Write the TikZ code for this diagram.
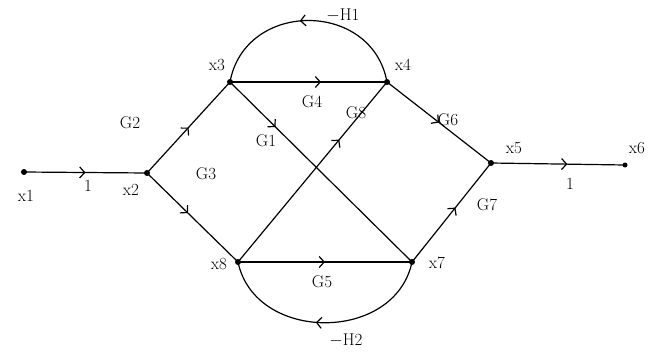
\documentclass[tikz,border=0pt]{standalone}
\usetikzlibrary{arrows.meta,decorations.markings}
\begin{document}
\begin{tikzpicture}[x=1pt,y=-1pt,
  dot/.style={circle,fill=black,inner sep=0pt,minimum size=6pt},
  lbl/.style={font=\fontsize{17}{19}\selectfont,inner sep=1pt},
  edge/.style={line width=1.2pt,postaction={decorate},
    decoration={markings,mark=at position #1 with {\arrow{Straight Barb[length=5pt,width=11pt,line width=1.2pt]}}}},
  edge/.default=0.5]
\useasboundingbox (0,0) rectangle (650,351);
% nodes
\node[dot] (x1) at (24,172) {};
\node[dot] (x2) at (147,173) {};
\node[dot] (x3) at (230,82) {};
\node[dot] (x4) at (387,82) {};
\node[dot] (x5) at (491,163) {};
\node[dot,minimum size=5pt] (x6) at (625,165) {};
\node[dot] (x7) at (412,262) {};
\node[dot] (x8) at (238,262) {};
% node labels
\node[lbl] (lx1) at (26,196) {x1};
\node[lbl] (lx2) at (131,190) {x2};
\node[lbl] (lx3) at (217,65) {x3};
\node[lbl] (lx4) at (403,65) {x4};
\node[lbl] (lx5) at (514,148) {x5};
\node[lbl] (lx6) at (637,148) {x6};
\node[lbl] (lx7) at (437,263) {x7};
\node[lbl] (lx8) at (219,264) {x8};
% edges
\draw[edge=0.5] (x1.center) -- (x2.center);
\draw[edge=0.5] (x2.center) -- (x3.center);
\draw[edge=0.45] (x2.center) -- (x8.center);
\draw[edge=0.58] (x3.center) -- (x4.center);
\draw[edge=0.25] (x3.center) -- (x7.center);
\draw[edge=0.68] (x8.center) -- (x4.center);
\draw[edge=0.5] (x8.center) -- (x7.center);
\draw[edge=0.5] (x4.center) -- (x5.center);
\draw[edge=0.55] (x7.center) -- (x5.center);
\draw[edge=0.57] (x5.center) -- (x6.center);
\draw[edge=0.54] (x4.center) .. controls (372,0) and (245,0) .. (x3.center);
\draw[edge=0.54] (x7.center) .. controls (395,343) and (255,343) .. (x8.center);
% gain labels
\node[lbl] (g1a) at (88,186) {1};
\node[lbl] (g2) at (130,123) {G2};
\node[lbl] (g3) at (206,174) {G3};
\node[lbl] (g4) at (312,102) {G4};
\node[lbl] (g1) at (266,141) {G1};
\node[lbl] (g8) at (356,113) {G8};
\node[lbl] (g5) at (322,282) {G5};
\node[lbl] (g6) at (448,120) {G6};
\node[lbl] (g7) at (487,205) {G7};
\node[lbl] (g1b) at (570,184) {1};
\node[lbl] (h1) at (343,15) {$-$H1};
\node[lbl] (h2) at (346,340) {$-$H2};
\end{tikzpicture}
\end{document}
